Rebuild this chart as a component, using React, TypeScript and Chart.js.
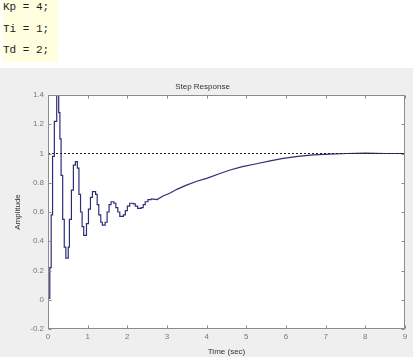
import React, { useEffect, useRef } from "react";
import { Chart, registerables } from "chart.js";

Chart.register(...registerables);

const codeLines = ["Kp = 4;", "Ti = 1;", "Td = 2;"];

const chartTitle = "Step Response";
const xTitle = "Time (sec)";
const yTitle = "Amplitude";

// Discrete (staircase) part of the step response: each value holds from its time until the next
const stepTimes = [
  0.0, 0.045, 0.08, 0.115, 0.16, 0.22, 0.27, 0.3, 0.33, 0.37, 0.41, 0.45, 0.51, 0.54, 0.59, 0.64,
  0.69, 0.74, 0.78, 0.82, 0.86, 0.9, 0.97, 1.02, 1.07, 1.12, 1.2, 1.24, 1.28, 1.33, 1.37, 1.44,
  1.49, 1.54, 1.59, 1.66, 1.71, 1.76, 1.81, 1.9, 1.95, 2.0, 2.06, 2.15, 2.2, 2.26, 2.35, 2.4,
  2.45, 2.52, 2.6,
];
const stepValues = [
  0.01, 0.22, 0.58, 0.98, 1.22, 1.45, 1.28, 1.1, 0.85, 0.55, 0.36, 0.285, 0.36, 0.55, 0.75, 0.92,
  0.945, 0.9, 0.72, 0.6, 0.5, 0.44, 0.52, 0.62, 0.7, 0.74, 0.72, 0.65, 0.58, 0.53, 0.51, 0.53,
  0.6, 0.65, 0.67, 0.66, 0.63, 0.6, 0.57, 0.58, 0.61, 0.64, 0.66, 0.655, 0.64, 0.625, 0.63, 0.65,
  0.67, 0.685, 0.69,
];

// Slow tail of the response
const tailTimes = [2.6, 2.75, 2.9, 3.08, 3.25, 3.46, 3.75, 4.0, 4.3, 4.59, 4.9, 5.26, 5.6, 5.93, 6.3, 6.69, 7.1, 7.53, 8.0, 8.5, 9.0];
const tailValues = [0.69, 0.685, 0.71, 0.73, 0.755, 0.78, 0.81, 0.83, 0.86, 0.887, 0.91, 0.93, 0.95, 0.967, 0.98, 0.99, 0.996, 1.0, 1.002, 1.0, 1.0];

const refTimes = [0, 9];
const refValues = [1, 1];

const xMin = 0;
const xMax = 9;
const yMin = -0.2;
const yMax = 1.4;

const FONT = "'Liberation Sans', Arial, sans-serif";

const boxPlugin = {
  id: "matlabBox",
  beforeDatasetsDraw(chart: any) {
    const { ctx, chartArea: a } = chart;
    ctx.save();
    ctx.fillStyle = "#ffffff";
    ctx.fillRect(a.left, a.top, a.right - a.left, a.bottom - a.top);
    ctx.restore();
  },
  afterDatasetsDraw(chart: any) {
    const { ctx, chartArea: a, scales } = chart;
    ctx.save();
    ctx.strokeStyle = "#8c8c8c";
    ctx.lineWidth = 1;
    const L = Math.round(a.left) + 0.5;
    const R = Math.round(a.right) - 0.5;
    const T = Math.round(a.top) + 0.5;
    const B = Math.round(a.bottom) - 0.5;
    ctx.strokeRect(L, T, R - L, B - T);
    const tl = 3;
    ctx.beginPath();
    scales.x.ticks.forEach((t: any) => {
      const px = Math.round(scales.x.getPixelForValue(t.value)) + 0.5;
      ctx.moveTo(px, B);
      ctx.lineTo(px, B - tl);
      ctx.moveTo(px, T);
      ctx.lineTo(px, T + tl);
    });
    scales.y.ticks.forEach((t: any) => {
      const py = Math.round(scales.y.getPixelForValue(t.value)) + 0.5;
      ctx.moveTo(L, py);
      ctx.lineTo(L + tl, py);
      ctx.moveTo(R, py);
      ctx.lineTo(R - tl, py);
    });
    ctx.stroke();
    ctx.restore();
  },
};

function StepChart() {
  const ref = useRef<HTMLCanvasElement | null>(null);
  useEffect(() => {
    if (!ref.current) return;
    const chart = new Chart(ref.current, {
      type: "line",
      data: {
        datasets: [
          {
            data: refTimes.map((t, i) => ({ x: t, y: refValues[i] })),
            borderColor: "#222222",
            borderWidth: 1,
            borderDash: [2, 2],
            pointRadius: 0,
            fill: false,
          },
          {
            data: stepTimes.map((t, i) => ({ x: t, y: stepValues[i] })),
            borderColor: "#2e2e78",
            borderWidth: 1.2,
            stepped: "before",
            pointRadius: 0,
            fill: false,
          },
          {
            data: tailTimes.map((t, i) => ({ x: t, y: tailValues[i] })),
            borderColor: "#2e2e78",
            borderWidth: 1.2,
            tension: 0,
            pointRadius: 0,
            fill: false,
          },
        ],
      },
      options: {
        animation: false,
        responsive: false,
        events: [],
        layout: { padding: { left: 0, right: 8, top: 0, bottom: 0 } },
        plugins: {
          legend: { display: false },
          tooltip: { enabled: false },
          title: {
            display: true,
            text: chartTitle,
            color: "#333333",
            font: { family: FONT, size: 8, weight: "normal" },
            padding: { top: 14, bottom: 3.4 },
          },
        },
        scales: {
          x: {
            type: "linear",
            min: xMin,
            max: xMax,
            grid: { display: false, drawTicks: false },
            border: { display: false },
            ticks: {
              stepSize: 1,
              color: "#777777",
              padding: 3,
              font: { family: FONT, size: 8 },
              maxRotation: 0,
            },
            title: {
              display: true,
              text: xTitle,
              color: "#333333",
              font: { family: FONT, size: 8 },
              padding: { top: 0, bottom: 0 },
            },
            afterFit(scale: any) {
              scale.height = 28;
            },
          },
          y: {
            type: "linear",
            min: yMin,
            max: yMax,
            grid: { display: false, drawTicks: false },
            border: { display: false },
            ticks: {
              stepSize: 0.2,
              color: "#777777",
              padding: 4,
              font: { family: FONT, size: 8 },
              callback: (v: any) => String(Number(Number(v).toFixed(1))),
            },
            title: {
              display: true,
              text: yTitle,
              color: "#333333",
              font: { family: FONT, size: 8 },
              padding: { top: 13, bottom: 0 },
            },
            afterFit(scale: any) {
              scale.width = 48;
            },
          },
        },
      },
      plugins: [boxPlugin],
    } as any);
    return () => chart.destroy();
  }, []);
  return <canvas ref={ref} width={413} height={289} style={{ display: "block", width: 413, height: 289 }} />;
}

export default function App() {
  return (
    <div style={{ position: "fixed", left: 0, top: 0, width: 413, height: 357, background: "#ffffff", overflow: "hidden" }}>
      <div
        style={{
          position: "absolute",
          left: 3,
          top: 0,
          width: 55,
          height: 62,
          background: "#ffffdf",
        }}
      >
        {codeLines.map((line, i) => (
          <div
            key={i}
            style={{
              position: "absolute",
              left: 0,
              top: i * 21.7 - 1,
              height: 16,
              lineHeight: "16px",
              fontFamily: "'Liberation Mono', 'DejaVu Sans Mono', monospace",
              fontSize: 11,
              color: "#222222",
              whiteSpace: "pre",
            }}
          >
            {line}
          </div>
        ))}
      </div>
      <div style={{ position: "absolute", left: 0, top: 68, width: 413, height: 289, background: "#efefef" }}>
        <StepChart />
      </div>
    </div>
  );
}
